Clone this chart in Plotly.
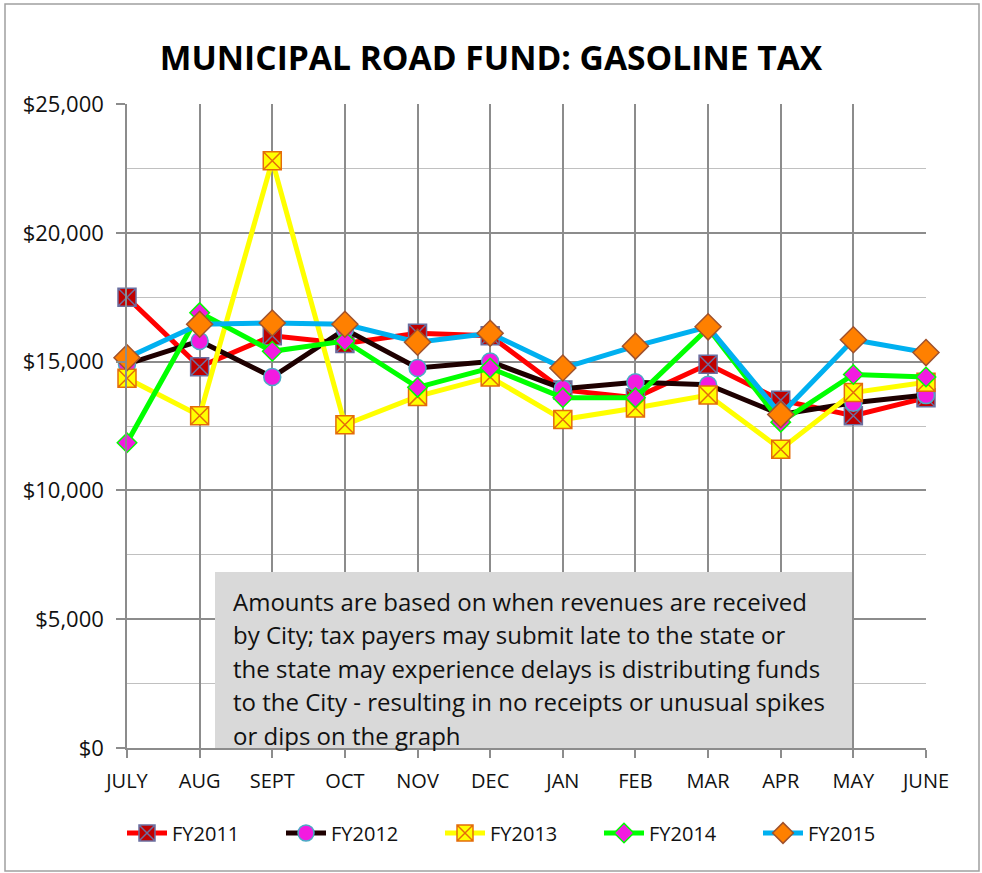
import plotly.graph_objects as go

months = ["JULY", "AUG", "SEPT", "OCT", "NOV", "DEC", "JAN", "FEB", "MAR", "APR", "MAY", "JUNE"]
fy2011 = [17500, 14800, 16000, 15700, 16100, 16000, 13900, 13600, 14900, 13500, 12900, 13600]
fy2012 = [14900, 15800, 14400, 16250, 14750, 15000, 13950, 14200, 14100, 12950, 13400, 13700]
fy2013 = [14350, 12900, 22800, 12550, 13650, 14400, 12750, 13200, 13700, 11600, 13800, 14200]
fy2014 = [11850, 16900, 15400, 15800, 14000, 14750, 13600, 13600, 16300, 12650, 14500, 14400]
fy2015 = [15150, 16450, 16500, 16450, 15750, 16100, 14750, 15600, 16350, 12950, 15850, 15350]

note_lines = [
    "Amounts are based on when revenues are received",
    "by City; tax payers may submit late to the state or",
    "the state may experience delays is distributing funds",
    "to the City - resulting in no receipts or unusual spikes",
    "or dips on the graph",
]

FONT = "Open Sans"
W, H = 982, 873
L, R, T, B = 127, 926, 104, 748

def px_x(p):
    return (p - L) / (R - L)

def px_y(p):
    return (B - p) / (B - T)

series = [
    ("FY2011", fy2011, "#FF0000", dict(symbol="square-x", size=18, color="#C00000", line=dict(color="#6B6FA0", width=1.5))),
    ("FY2012", fy2012, "#1E0000", dict(symbol="circle", size=17, color="#F21BE0", line=dict(color="#4BACC6", width=1.5))),
    ("FY2013", fy2013, "#FFFF00", dict(symbol="square-x", size=18, color="#FFFF00", line=dict(color="#E46C0A", width=1.5))),
    ("FY2014", fy2014, "#00FF00", dict(symbol="diamond", size=15, color="#F21BE0", line=dict(color="#00FF00", width=1.5))),
    ("FY2015", fy2015, "#00B0F0", dict(symbol="diamond", size=20, color="#FF8000", line=dict(color="#A0522D", width=1.5))),
]

fig = go.Figure()
for name, vals, lc, mk in series:
    fig.add_trace(go.Scatter(
        x=months, y=vals, name=name, mode="lines+markers",
        line=dict(color=lc, width=5), marker=mk, cliponaxis=False,
    ))

fig.update_layout(
    width=W, height=H,
    margin=dict(l=L, r=W - R, t=T, b=H - B, autoexpand=False),
    paper_bgcolor="white", plot_bgcolor="white",
    font=dict(family=FONT, size=20, color="#111111"),
    title=dict(text="<b>MUNICIPAL ROAD FUND: GASOLINE TAX</b>", x=0.5, xref="container", xanchor="center",
               y=1 - 58 / H, yref="container", yanchor="middle",
               font=dict(family=FONT, size=33.6, color="#000000")),
    showlegend=True,
    legend=dict(orientation="h", x=px_x(122), xanchor="left", y=px_y(833), yanchor="middle",
                font=dict(family=FONT, size=20, color="#111111"),
                entrywidth=104, entrywidthmode="pixels", itemwidth=40,
                bgcolor="rgba(0,0,0,0)"),
)

fig.update_xaxes(
    type="category", categoryorder="array", categoryarray=months,
    range=[0, len(months) - 1],
    showgrid=True, gridcolor="#8C8C8C", gridwidth=1.5,
    showline=True, linecolor="#8C8C8C", linewidth=1.5,
    ticks="outside", ticklen=8, tickcolor="#8C8C8C", tickwidth=1.5,
    ticklabelstandoff=6,
    tickfont=dict(family=FONT, size=20, color="#111111"),
    zeroline=False, fixedrange=True, automargin=False,
)
fig.update_yaxes(
    range=[0, 25000], dtick=5000, tickformat="$,.0f",
    showgrid=True, gridcolor="#8C8C8C", gridwidth=1.5,
    minor=dict(dtick=2500, showgrid=True, gridcolor="#C0C0C0", gridwidth=1.2),
    showline=True, linecolor="#8C8C8C", linewidth=1.5,
    ticks="outside", ticklen=9, tickcolor="#8C8C8C", tickwidth=1.5,
    ticklabelstandoff=8,
    tickfont=dict(family=FONT, size=22, color="#111111"),
    zeroline=False, fixedrange=True, automargin=False,
)

# outer chart frame
fig.add_shape(type="rect", xref="paper", yref="paper",
              x0=px_x(5), x1=px_x(979), y0=px_y(871), y1=px_y(4),
              line=dict(color="#A0A0A0", width=1.5), fillcolor="rgba(0,0,0,0)", layer="below")

# note box
fig.add_shape(type="rect", xref="paper", yref="paper",
              x0=px_x(215), x1=px_x(852), y0=px_y(748), y1=px_y(572),
              line=dict(width=0), fillcolor="#D9D9D9", layer="above")

centers = [601, 634.5, 668, 701.5, 735]
for txt, c in zip(note_lines, centers):
    fig.add_annotation(text=txt, xref="paper", yref="paper", x=px_x(231), y=px_y(c),
                       xanchor="left", yanchor="middle", showarrow=False,
                       font=dict(family=FONT, size=24, color="#111111"))

fig.write_html("out.html", config={"displayModeBar": False},
               post_script="document.body.style.margin='0';")
